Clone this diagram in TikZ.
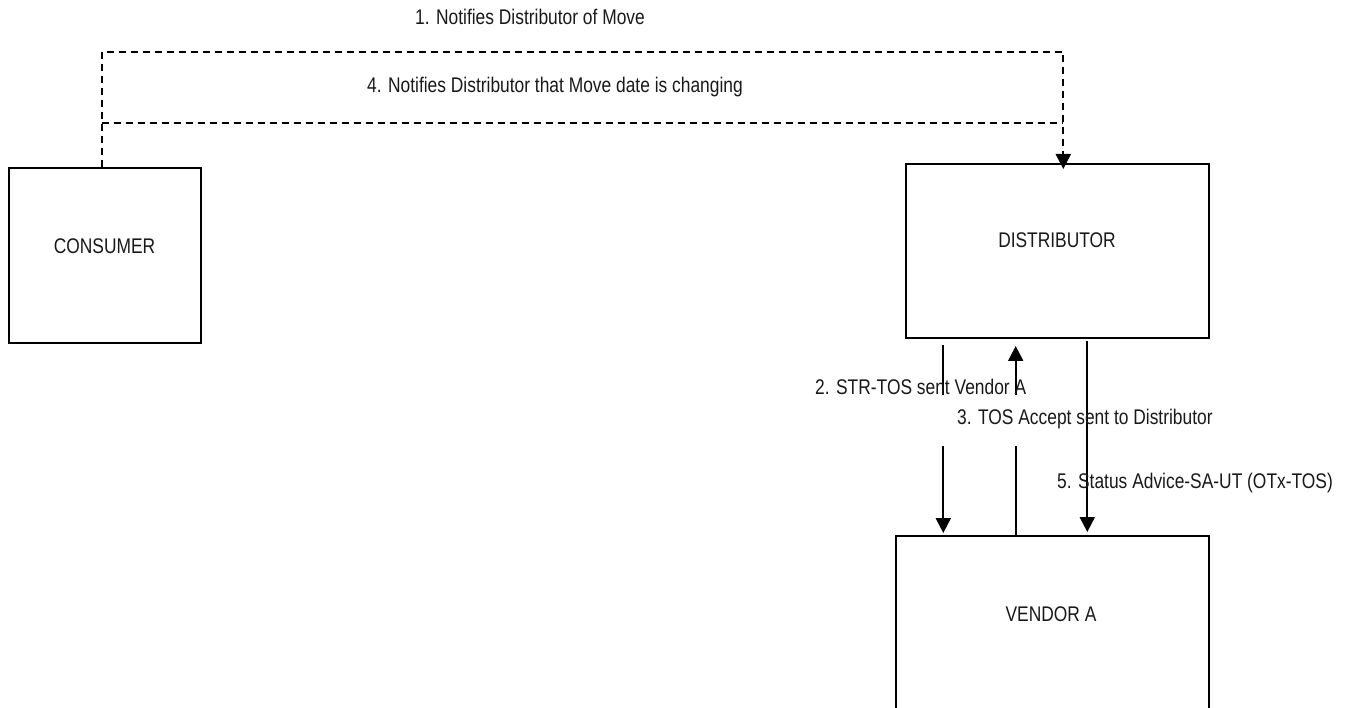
\documentclass[tikz,border=0pt]{standalone}
\usepackage{fontspec}
\setmainfont{Liberation Sans}[FakeStretch=0.82]
\usetikzlibrary{arrows.meta}
\begin{document}
\begin{tikzpicture}[x=1pt,y=-1pt,
  box/.style={draw,line width=2pt,rectangle,inner sep=0pt,anchor=north west},
  lbl/.style={font=\fontsize{21.2}{25}\selectfont,inner sep=0pt,text=black!90},
  tip/.style={-{Triangle[width=15pt,length=15pt]}},
  flow/.style={line width=2pt,tip},
  plain/.style={line width=2pt},
  dashflow/.style={line width=2pt,dash pattern=on 7pt off 5pt}
]
\useasboundingbox (0,0) rectangle (1349,708);
\clip (0,0) rectangle (1349,708);

% boxes
\node[box,minimum width=192pt,minimum height=175pt] (consumer) at (8,167) {};
\node[box,minimum width=303pt,minimum height=174pt] (dist) at (905,163) {};
\node[box,minimum width=313pt,minimum height=250pt] (vendor) at (895,535) {};

\node[lbl] (tcons) at (104.5,246) {CONSUMER};
\node[lbl] (tdist) at (1057,240) {DISTRIBUTOR};
\node[lbl] (tvend) at (1051,614) {VENDOR A};

% dashed connectors consumer -> distributor
\coordinate (top1) at (101.7,52);
\coordinate (top2) at (1063.3,52);
\coordinate (mid1) at (101.7,122.7);
\coordinate (mid2) at (1063.3,122.7);
\draw[dashflow,tip,shorten >=-6pt]
  (top1 |- consumer.north) -- (top1) -- (top2) -- (top2 |- dist.north);
\draw[dashflow] (mid1) -- (mid2);

% distributor <-> vendor
\coordinate (b2) at (943.3,395);
\coordinate (c2) at (943.3,446);
\coordinate (b3) at (1015.7,395);
\coordinate (c3) at (1015.7,446);
\coordinate (x5) at (1087.3,400);
\draw[plain,shorten <=6pt] (b2 |- dist.south) -- (b2);
\draw[flow,shorten >=2pt] (c2) -- (c2 |- vendor.north);
\draw[flow,shorten >=7pt] (b3) -- (b3 |- dist.south);
\draw[plain] (c3 |- vendor.north) -- (c3);
\draw[flow,shorten <=2pt,shorten >=3pt] (x5 |- dist.south) -- (x5 |- vendor.north);

% labels
\node[lbl,anchor=west] (l1) at (415,17) {1. Notifies Distributor of Move};
\node[lbl,anchor=west] (l4) at (367,87) {4. Notifies Distributor that Move date is changing};
\node[lbl,anchor=west] (l2) at (815,387) {2. STR-TOS sent Vendor A};
\node[lbl,anchor=west] (l3) at (957,419) {3. TOS Accept sent to Distributor};
\node[lbl,anchor=west] (l5) at (1057,483) {5. Status Advice-SA-UT (OTx-TOS)};
\end{tikzpicture}
\end{document}
